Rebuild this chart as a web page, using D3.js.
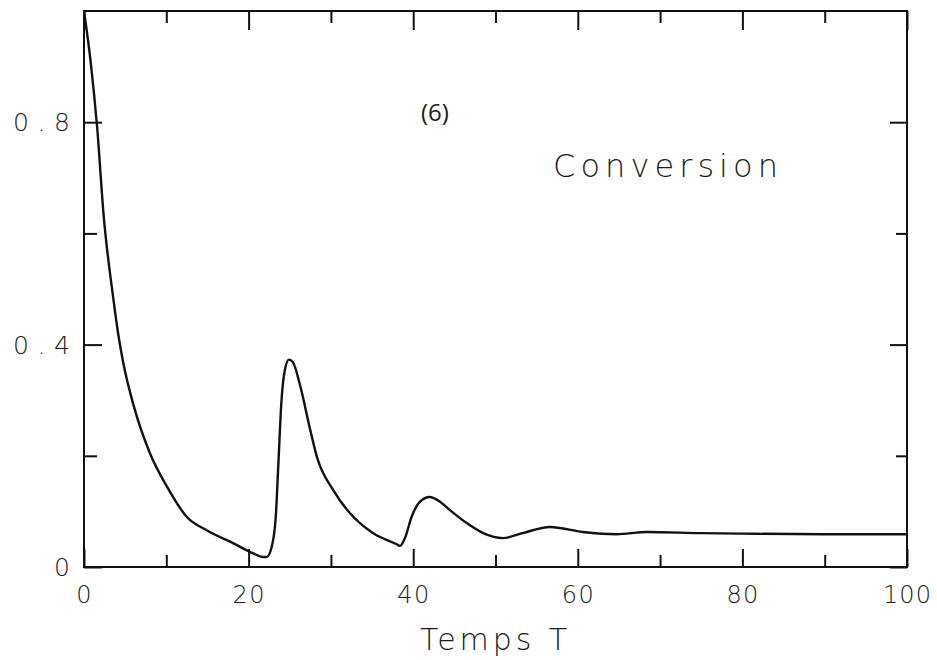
<!DOCTYPE html>
<html>
<head>
<meta charset="utf-8">
<script src="https://cdn.jsdelivr.net/npm/d3@7"></script>
<style>
  body { margin: 0; background: #fff; }
  svg text { font-family: "DejaVu Sans", sans-serif; fill: #1a1a1a; }
</style>
</head>
<body>
<svg id="canvas" width="937" height="660"></svg>
<script>
// time values
let temps = [0, 0.8, 1.6, 2.4, 3.5, 4.2, 4.8, 6.0, 8.0, 10.1, 12.5, 14.9, 18.1, 20.5, 21.8,
  22.2, 22.8, 23.3, 23.6, 24.0, 24.4, 24.9, 25.4, 26.2, 27.5, 28.3, 30.3, 32.3, 35.1, 38.0,
  38.4, 39.0, 39.8, 40.8, 42.0, 43.3, 44.5, 46.5, 48.5, 50.9, 53.3, 56.6, 60.6, 64.7, 68.4,
  74.8, 80, 90, 100]
// conversion at each time
let conversion = [1.0, 0.91, 0.79, 0.63, 0.49, 0.415, 0.365, 0.292, 0.205, 0.144, 0.09, 0.066,
  0.043, 0.025, 0.018, 0.018, 0.036, 0.09, 0.18, 0.30, 0.354, 0.373, 0.368, 0.33, 0.246, 0.198,
  0.138, 0.097, 0.061, 0.041, 0.038, 0.052, 0.09, 0.117, 0.126, 0.117, 0.102, 0.079, 0.061,
  0.052, 0.061, 0.072, 0.063, 0.059, 0.063, 0.061, 0.06, 0.059, 0.059]

let xMajor = [0, 20, 40, 60, 80, 100]
let xMinor = [10, 30, 50, 70, 90]
let yMajor = [0, 0.4, 0.8]
let yMinor = [0.2, 0.6]
let yLabels = ["0", "0.4", "0.8"]

let canvas = d3.select('#canvas')

let plotLeft = 84, plotRight = 907, plotTop = 11, plotBottom = 567

let x = d3.scaleLinear().domain([0, 100]).range([plotLeft, plotRight])
let y = d3.scaleLinear().domain([0, 1]).range([plotBottom, plotTop])

// frame
canvas.append('rect')
  .attr('x', plotLeft).attr('y', plotTop)
  .attr('width', plotRight - plotLeft).attr('height', plotBottom - plotTop)
  .attr('fill', 'none').attr('stroke', '#111').attr('stroke-width', 2)

let tickStyle = g => {
  g.select('.domain').remove()
  g.selectAll('.tick line').attr('stroke', '#111').attr('stroke-width', 2)
  g.selectAll('.tick text').remove()
}

// inward ticks on all four sides
canvas.append('g').attr('transform', `translate(0,${plotBottom})`)
  .call(d3.axisBottom(x).tickValues(xMajor).tickSize(-18)).call(tickStyle)
canvas.append('g').attr('transform', `translate(0,${plotBottom})`)
  .call(d3.axisBottom(x).tickValues(xMinor).tickSize(-12)).call(tickStyle)
canvas.append('g').attr('transform', `translate(0,${plotTop})`)
  .call(d3.axisTop(x).tickValues(xMajor).tickSize(-19)).call(tickStyle)
canvas.append('g').attr('transform', `translate(0,${plotTop})`)
  .call(d3.axisTop(x).tickValues(xMinor).tickSize(-12)).call(tickStyle)
canvas.append('g').attr('transform', `translate(${plotLeft},0)`)
  .call(d3.axisLeft(y).tickValues(yMajor).tickSize(-18)).call(tickStyle)
canvas.append('g').attr('transform', `translate(${plotLeft},0)`)
  .call(d3.axisLeft(y).tickValues(yMinor).tickSize(-13)).call(tickStyle)
canvas.append('g').attr('transform', `translate(${plotRight},0)`)
  .call(d3.axisRight(y).tickValues(yMajor).tickSize(-17)).call(tickStyle)
canvas.append('g').attr('transform', `translate(${plotRight},0)`)
  .call(d3.axisRight(y).tickValues(yMinor).tickSize(-11)).call(tickStyle)

// tick labels
canvas.append('g').selectAll('text')
  .data(xMajor).enter().append('text')
  .attr('x', d => x(d))
  .attr('y', 603)
  .attr('text-anchor', 'middle')
  .attr('font-size', 24)
  .attr('textLength', d => String(d).length * 16)
  .attr('lengthAdjust', 'spacing')
  .style('font-weight', 300)
  .text(d => d)

canvas.append('g').selectAll('text')
  .data(yMajor).enter().append('text')
  .attr('x', 70)
  .attr('y', d => y(d) + 9)
  .attr('text-anchor', 'end')
  .attr('font-size', 25)
  .attr('textLength', (d, i) => yLabels[i].length > 1 ? 57 : null)
  .attr('lengthAdjust', 'spacing')
  .style('font-weight', 300)
  .text((d, i) => yLabels[i])

// curve
let line = d3.line()
  .x((d, i) => x(temps[i]))
  .y(d => y(d))
  .curve(d3.curveMonotoneX)

canvas.append('path')
  .datum(conversion)
  .attr('d', line)
  .attr('fill', 'none')
  .attr('stroke', '#111')
  .attr('stroke-width', 2.4)
  .attr('stroke-linejoin', 'round')

// annotations
canvas.append('text')
  .attr('x', 421).attr('y', 121)
  .attr('font-size', 24)
  .style('font-family', '"Open Sans", sans-serif')
  .text('(6)')

canvas.append('text')
  .attr('x', 553).attr('y', 177)
  .attr('font-size', 32)
  .attr('textLength', 225)
  .attr('lengthAdjust', 'spacing')
  .style('font-weight', 300)
  .text('Conversion')

canvas.append('text')
  .attr('x', 420).attr('y', 650)
  .attr('font-size', 30)
  .attr('textLength', 147)
  .attr('lengthAdjust', 'spacing')
  .style('font-weight', 300)
  .text('Temps  T')
</script>
</body>
</html>
